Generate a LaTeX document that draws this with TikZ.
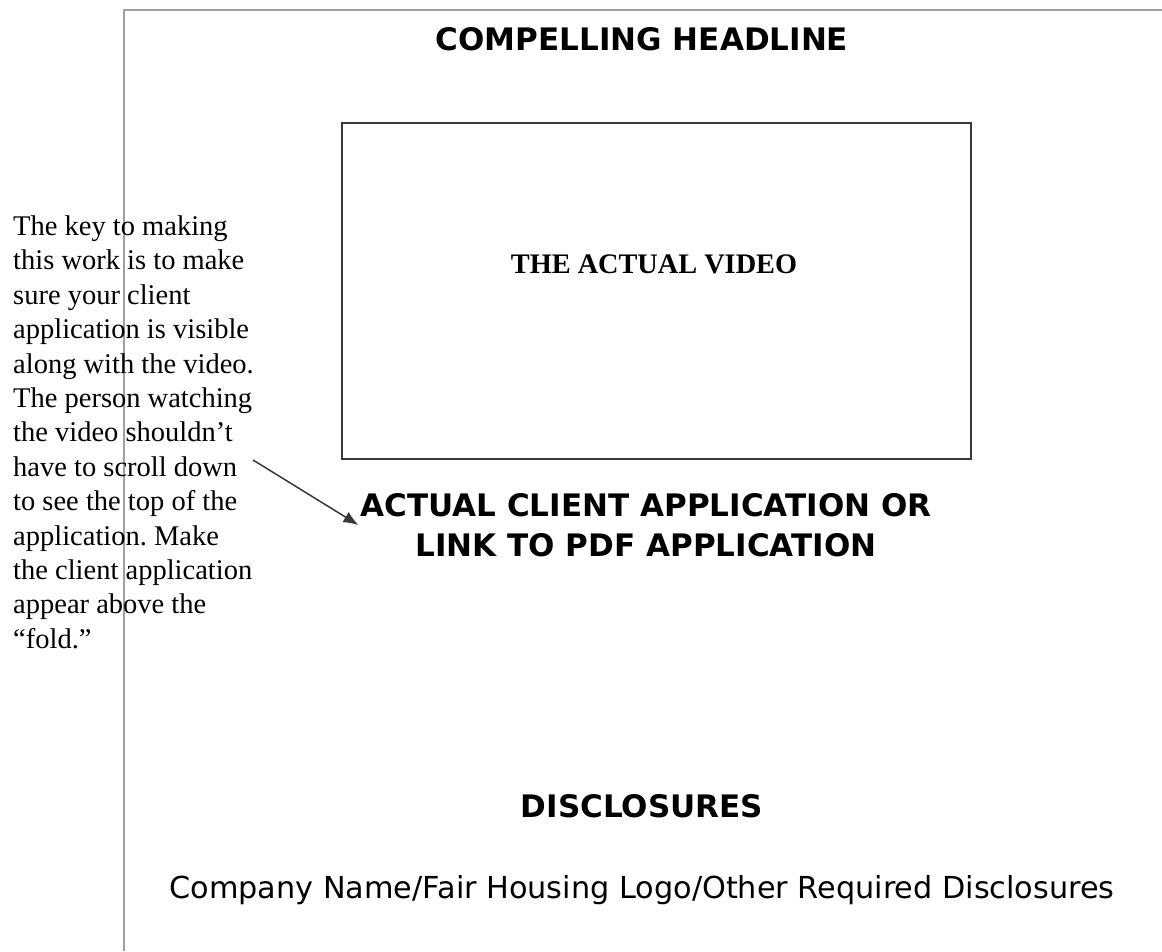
\documentclass[tikz,border=0pt]{standalone}
\usepackage{fontspec}
\setmainfont{Liberation Serif}
\newfontfamily\headfont{DejaVu Sans}
\usepackage{tikz}
\usetikzlibrary{arrows,arrows.meta,positioning,calc}

\definecolor{pagegray}{HTML}{A0A0A0}
\definecolor{boxgray}{HTML}{383838}

\tikzset{
  heading/.style={font=\headfont\bfseries\fontsize{31}{40}\selectfont, inner sep=2pt},
}
\frenchspacing

\begin{document}
\begin{tikzpicture}[x=1pt, y=-1pt]
  \useasboundingbox (0,0) rectangle (1162,951);
  \draw[pagegray, line width=2pt] (124,951) -- (124,9.5) -- (1162,9.5);

  \node[heading, anchor=base] (headline) at (642,50) {COMPELLING HEADLINE};
  \node[draw=boxgray, line width=2pt, minimum width=629pt, minimum height=336pt,
        anchor=north west, inner sep=0pt] (video) at (341,122) {};
  \node[font=\bfseries\fontsize{28.3}{34}\selectfont, anchor=base] (videotext) at (654,273) {THE ACTUAL VIDEO};
  \node[heading, align=center] (app) at (646,525) {ACTUAL CLIENT APPLICATION OR\\LINK TO PDF APPLICATION};
  \node[heading, anchor=base] (disclosures) at (642,817) {DISCLOSURES};
  \node[font=\headfont\fontsize{30.3}{36}\selectfont, anchor=base] (company) at (642,898)
    {Company Name/Fair Housing Logo/Other Required Disclosures};

  \node[font=\fontsize{28.5}{34.4}\selectfont, align=left, anchor=north west, inner sep=0pt] (note) at (13,215.5)
    {The key to making\\this work is to make\\sure your client\\application is visible\\along with the video.\\The person watching\\the video shouldn’t\\have to scroll down\\to see the top of the\\application. Make\\the client application\\appear above the\\``fold.''};

  \coordinate (tail) at (253,460);
  \draw[-{Latex[length=15pt,width=12pt]}, boxgray, line width=1.5pt] (tail) -- (app.west);
\end{tikzpicture}
\end{document}
